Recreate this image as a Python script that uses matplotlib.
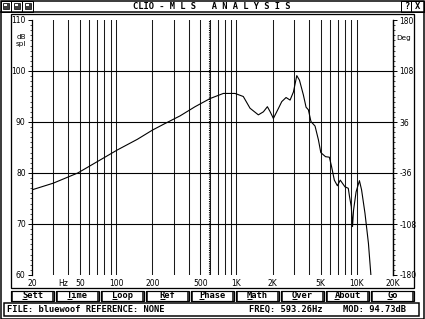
import matplotlib
matplotlib.use("Agg")
import matplotlib.pyplot as plt
import numpy as np
from matplotlib.patches import Rectangle

# ---------------- data ----------------
freq_hz = [20, 30, 48, 73, 102, 150, 200, 250, 340, 453, 604, 778, 974, 1140, 1297,
           1521, 1675, 1808, 1907, 2028, 2237, 2380, 2584, 2791, 2977, 3172, 3340,
           3600, 3790, 3960, 4160, 4500, 4800, 5024, 5500, 5920, 6180, 6510, 6900,
           7290, 7970, 8500, 8700, 9000, 9220, 9400, 9870, 10520, 10960, 11700,
           12500, 13100]
spl_db = [76.7, 78.0, 80.0, 82.5, 84.5, 86.6, 88.4, 89.6, 91.2, 93.0, 94.6, 95.6,
          95.6, 95.0, 92.7, 91.4, 92.0, 93.0, 92.0, 90.7, 92.7, 94.0, 94.8, 94.3,
          95.9, 99.1, 98.2, 95.3, 92.9, 92.4, 90.1, 89.2, 86.5, 84.0, 83.2, 83.1,
          81.2, 78.6, 77.5, 78.6, 77.3, 77.0, 75.4, 73.4, 69.5, 72.7, 76.3, 78.5,
          76.7, 72.1, 66.2, 60.0]

x_tick_freqs = [20, 50, 100, 200, 500, 1000, 2000, 5000, 10000, 20000]
x_tick_labels = ["20", "50", "100", "200", "500", "1K", "2K", "5K", "10K", "20K"]
db_ticks = [60, 70, 80, 90, 100, 110]
deg_ticks = [-180, -108, -36, 36, 108, 180]
cursor_freq = 593.26
buttons = ["Sett", "Time", "Loop", "Ref", "Phase", "Math", "Over", "About", "Go"]
title_text = "CLIO - M L S   A N A L Y S I S"
status_left = "FILE: bluewoof REFERENCE: NONE"
status_freq = "FREQ: 593.26Hz"
status_mod = "MOD: 94.73dB"

W, H = 425, 319
fig = plt.figure(figsize=(W / 100, H / 100), dpi=100)
fig.patch.set_facecolor("white")

# ---------------- window chrome (pixel coordinates) ----------------
bg = fig.add_axes([0, 0, 1, 1])
bg.set_xlim(0, W)
bg.set_ylim(H, 0)
bg.axis("off")
PX = 0.72  # 1 pixel in points

def rect(x0, y0, x1, y1, lw=1.0, fc="none", ec="black", z=1):
    bg.add_patch(Rectangle((x0, y0), x1 - x0, y1 - y0, lw=lw * PX, fc=fc, ec=ec, zorder=z))

def hline(y, x0, x1, lw=1.0, z=2):
    bg.plot([x0, x1], [y, y], color="black", lw=lw * PX, zorder=z, solid_capstyle="butt")

def vline(x, y0, y1, lw=1.0, z=2):
    bg.plot([x, x], [y0, y1], color="black", lw=lw * PX, zorder=z, solid_capstyle="butt")

mono = dict(family="DejaVu Sans Mono", weight="bold")

# outer border
rect(0.5, 0.5, W - 0.5, H - 0.5, lw=1.5)
# title bar
hline(11.5, 0, W, lw=1.5)
bg.text(212, 6.2, title_text, ha="center", va="center", fontsize=6.3, **mono)
# icons
for i, x0 in enumerate([0.5, 11.5, 22.5]):
    rect(x0, 0.5, x0 + 11, 11.5, lw=1.0)
    bg.add_patch(Rectangle((x0 + 2.5, 3), 6, 6, fc="#404040", ec="black", lw=0.5, zorder=3))
    bg.add_patch(Rectangle((x0 + 4, 3.5), 3, 2.5, fc="white", ec="none", zorder=4))
# ? and X boxes
rect(401.5, 0.5, 411.5, 11.5, lw=1.0)
rect(411.5, 0.5, 424.5, 11.5, lw=1.0)
bg.text(406.5, 6.3, "?", ha="center", va="center", fontsize=6.3, **mono)
bg.text(418, 6.3, "X", ha="center", va="center", fontsize=6.3, **mono)

# plot frame
rect(11.5, 13.5, 414.5, 288.0, lw=1.3)

# buttons
bx0, bx1 = 11.0, 414.0
nb = len(buttons)
gap = 2.0
bw = (bx1 - bx0 - gap * (nb - 1)) / nb
cw = 5.35  # char width in px for mono text
for i, name in enumerate(buttons):
    x0 = bx0 + i * (bw + gap)
    x1 = x0 + bw
    rect(x0, 290.5, x1, 301.0, lw=1.2)
    vline(x0 + 1, 290.5, 301.5, lw=1.5)
    vline(x1 - 0.5, 290.5, 301.5, lw=1.5)
    cx = (x0 + x1) / 2
    bg.text(cx, 296.0, name, ha="center", va="center", fontsize=6.3, **mono)
    tx0 = cx - len(name) * cw / 2
    hline(299.3, tx0 + 0.3, tx0 + cw - 0.3, lw=1.0, z=4)

# status bar
rect(4.0, 303.0, 419.0, 316.0, lw=1.5)
bg.text(7, 309.8, status_left, ha="left", va="center", fontsize=6.3, **mono)
bg.text(249, 309.8, status_freq, ha="left", va="center", fontsize=6.3, **mono)
bg.text(343, 309.8, status_mod, ha="left", va="center", fontsize=6.3, **mono)

# ---------------- plot area ----------------
L, R, T, B = 32, 393, 20, 275
ax = fig.add_axes([L / W, 1 - B / H, (R - L) / W, (B - T) / H])
ax.set_facecolor("none")
ax.set_xscale("log")
ax.set_xlim(20, 20000)
ax.set_ylim(60, 110)

# grid
grid_freqs = []
for dec in [10, 100, 1000, 10000]:
    for m in range(1, 10):
        f = m * dec
        if 20 < f < 20000:
            grid_freqs.append(f)
for f in grid_freqs:
    ax.axvline(f, color="#1a1a1a", lw=0.75, zorder=1)
for d in db_ticks[1:-1]:
    ax.axhline(d, color="black", lw=0.8, zorder=1)
ax.axvline(cursor_freq, color="black", lw=0.8, ls=(0, (1, 1)), zorder=2)

ax.plot(freq_hz, spl_db, color="black", lw=0.8, zorder=3)

for s in ["top", "bottom"]:
    ax.spines[s].set_visible(False)
ax.spines["left"].set_linewidth(0.9)
ax.spines["right"].set_linewidth(0.9)

ax.set_xticks(x_tick_freqs)
ax.set_xticklabels(x_tick_labels)
ax.xaxis.set_minor_locator(matplotlib.ticker.NullLocator())
ax.tick_params(axis="x", length=0, pad=3, labelsize=5.5)
ax.set_yticks(db_ticks)
ax.set_yticklabels([str(v) for v in db_ticks])
ax.set_yticks(np.arange(60, 111, 1), minor=True)
ax.tick_params(axis="y", which="major", length=3, width=0.7, direction="out", pad=1.5, labelsize=5.5)
ax.tick_params(axis="y", which="minor", length=1.5, width=0.5, direction="out")
ax.text(-0.03, 0.92, "dB\nspl", transform=ax.transAxes, fontsize=5.2, ha="center",
        va="center", linespacing=1.05)
ax.text(36, -4.5 / 255, "Hz", transform=ax.get_xaxis_transform(), fontsize=5.5,
        ha="center", va="top")

ax2 = ax.twinx()
ax2.set_ylim(-180, 180)
ax2.set_yticks(deg_ticks)
ax2.set_yticklabels([str(v) for v in deg_ticks])
ax2.set_yticks(np.arange(-180, 181, 7.2), minor=True)
ax2.tick_params(axis="y", which="major", length=3, width=0.7, direction="out", pad=1.5, labelsize=5.5)
ax2.tick_params(axis="y", which="minor", length=1.5, width=0.5, direction="out")
for s in ["top", "bottom", "left"]:
    ax2.spines[s].set_visible(False)
ax2.spines["right"].set_linewidth(0.9)
ax2.text(1.008, 0.93, "Deg", transform=ax2.transAxes, fontsize=5.2, ha="left", va="center")

fig.savefig("out.png", dpi=100)
